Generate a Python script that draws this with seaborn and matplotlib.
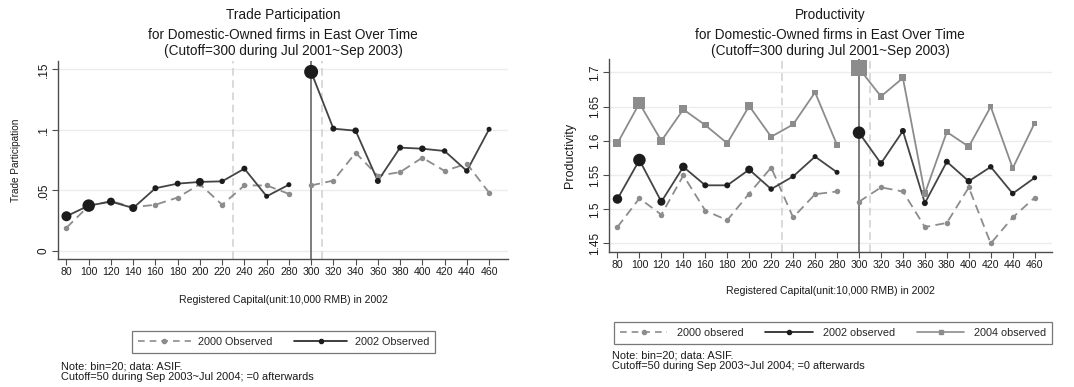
import matplotlib
matplotlib.use("Agg")
import matplotlib.pyplot as plt
from matplotlib.lines import Line2D
import seaborn as sns
import pandas as pd
import numpy as np

sns.set_style("white")
plt.rcParams['font.family'] = ['Liberation Sans', 'DejaVu Sans']

# ---------------- data ----------------
bins = [80, 100, 120, 140, 160, 180, 200, 220, 240, 260, 280,
        300, 320, 340, 360, 380, 400, 420, 440, 460]
xticks = [80, 100, 120, 140, 160, 180, 200, 220, 240, 260, 280,
          300, 320, 340, 360, 380, 400, 420, 440, 460]

# Trade participation
trade_2000 = [0.019, 0.037, 0.041, 0.036, 0.038, 0.044, 0.055, 0.038, 0.054, 0.054, 0.047,
              0.054, 0.058, 0.081, 0.062, 0.065, 0.077, 0.066, 0.072, 0.048]
trade_2002 = [0.0285, 0.0373, 0.0406, 0.0353, 0.0517, 0.0555, 0.0569, 0.0574, 0.0679, 0.045, 0.0546,
              0.148, 0.101, 0.0993, 0.0577, 0.0853, 0.0844, 0.0825, 0.066, 0.1005]
# relative bin weights (marker diameter, px)
trade_w2002 = [10, 12.5, 8, 8, 6, 6, 8, 5.5, 6, 5, 5,
               14, 6, 6.5, 6, 6, 6.5, 5.5, 5.5, 5]

# Productivity
prod_2000 = [1.474, 1.516, 1.492, 1.5495, 1.498, 1.484, 1.523, 1.561, 1.488, 1.522, 1.526,
             1.511, 1.532, 1.526, 1.474, 1.480, 1.532, 1.450, 1.488, 1.517]
prod_2002 = [1.515, 1.572, 1.511, 1.562, 1.535, 1.535, 1.558, 1.5295, 1.548, 1.577, 1.554,
             1.612, 1.567, 1.6145, 1.509, 1.5695, 1.541, 1.562, 1.523, 1.546]
prod_2004 = [1.5965, 1.655, 1.600, 1.646, 1.623, 1.5965, 1.651, 1.606, 1.624, 1.671, 1.594,
             1.706, 1.665, 1.692, 1.523, 1.613, 1.5915, 1.650, 1.560, 1.626]
prod_w2002 = [9.5, 12.5, 8, 8.5, 6, 6, 8, 5.5, 5.5, 5, 5,
              12.5, 6.5, 6, 6, 6, 6.5, 5.5, 5.5, 5]
prod_w2004 = [8, 12, 8, 8, 6.5, 6.5, 8, 6, 6, 5.5, 5.5,
              16, 6.5, 7, 6.5, 6, 7, 5.5, 5.5, 5]

cutoff = 300
band_lo, band_hi = 230, 310

C_BLACK = "#1c1c1c"
C_BLINE = "#444444"
C_GRAY = "#8c8c8c"
C_GRID = "#ececec"
C_AX = "#4d4d4d"
C_TXT = "#1a1a1a"

W, H = 1074, 387
fig = plt.figure(figsize=(W / 100, H / 100), dpi=100)


def px_axes(l, t, r, b):
    return fig.add_axes([l / W, 1 - b / H, (r - l) / W, (b - t) / H])


def draw_series(ax, x, y, color, ls, lw, marker, msize, wdiam=None):
    df = pd.DataFrame({"x": x, "y": y})
    df["seg"] = np.where(df["x"] < cutoff, "a", "b")
    for seg in ["a", "b"]:
        sub = df[df["seg"] == seg]
        sns.lineplot(data=sub, x="x", y="y", ax=ax, color=color, lw=lw,
                     linestyle=ls, estimator=None, sort=False, zorder=3)
    if wdiam is None:
        sns.scatterplot(data=df, x="x", y="y", ax=ax, color=color, marker=marker,
                        s=(msize * 0.72) ** 2, linewidth=0, zorder=4, legend=False)
    else:
        df["s"] = [(d * 0.72) ** 2 for d in wdiam]
        smin, smax = df["s"].min(), df["s"].max()
        sns.scatterplot(data=df, x="x", y="y", ax=ax, color=color, marker=marker,
                        size="s", sizes=(smin, smax), size_norm=(smin, smax),
                        linewidth=0, zorder=4, legend=False)


def style_axes(ax, yticks, ylabels, ylim, xlim, ylab, ylab_fs, ylab_pad, xlab_pad):
    ax.set_xlim(*xlim)
    ax.set_ylim(*ylim)
    ax.set_xticks(xticks)
    ax.set_xticklabels([str(v) for v in xticks], fontsize=7.6, color=C_TXT)
    ax.set_yticks(yticks)
    ax.set_yticklabels(ylabels, fontsize=8.5, rotation=90, va="center", color=C_TXT)
    for yv in yticks:
        ax.axhline(yv, color=C_GRID, lw=1.0, zorder=0)
    for s in ["top", "right"]:
        ax.spines[s].set_visible(False)
    for s in ["left", "bottom"]:
        ax.spines[s].set_color(C_AX)
        ax.spines[s].set_linewidth(1.0)
    ax.tick_params(axis="both", direction="out", length=4, width=0.8, color=C_AX,
                   pad=2, bottom=True, left=True)
    ax.set_xlabel("Registered Capital(unit:10,000 RMB) in 2002", fontsize=7.6,
                  color=C_TXT, labelpad=xlab_pad)
    ax.set_ylabel(ylab, fontsize=ylab_fs, color=C_TXT, labelpad=ylab_pad)
    ax.axvline(band_lo, color="#cfcfcf", lw=1.1, ls=(0, (5, 3)), zorder=1)
    ax.axvline(band_hi, color="#cfcfcf", lw=1.1, ls=(0, (5, 3)), zorder=1)
    ax.axvline(cutoff, color="#5a5a5a", lw=1.1, zorder=2)


def titles(xc, main):
    fig.text(xc / W, 1 - 15 / H, main, ha="center", va="center",
             fontsize=9.8, color=C_TXT)
    fig.text(xc / W, 1 - 35 / H, "for Domestic-Owned firms in East Over Time",
             ha="center", va="center", fontsize=9.8, color=C_TXT)
    fig.text(xc / W, 1 - 51 / H, "(Cutoff=300 during Jul 2001~Sep 2003)",
             ha="center", va="center", fontsize=9.8, color=C_TXT)


# ---------------- left panel ----------------
ax1 = px_axes(58, 61, 508, 259)
draw_series(ax1, bins, trade_2000, C_GRAY, (0, (5, 3)), 1.3, "o", 5.5)
draw_series(ax1, bins, trade_2002, C_BLINE, "-", 1.3, "o", 6, wdiam=trade_w2002)
ax1.collections[-1].set_color(C_BLACK)
style_axes(ax1, [0, 0.05, 0.1, 0.15], ["0", ".05", ".1", ".15"],
           (-0.0069, 0.157), (72.4, 477), "Trade Participation", 7.2, 12, 13)
titles(283, "Trade Participation")

# ---------------- right panel ----------------
ax2 = px_axes(609, 59, 1052, 252)
draw_series(ax2, bins, prod_2004, C_GRAY, "-", 1.3, "s", 6, wdiam=prod_w2004)
draw_series(ax2, bins, prod_2000, C_GRAY, (0, (5, 3)), 1.3, "o", 5.5)
draw_series(ax2, bins, prod_2002, C_BLINE, "-", 1.3, "o", 6, wdiam=prod_w2002)
ax2.collections[-1].set_color(C_BLACK)
style_axes(ax2, [1.45, 1.5, 1.55, 1.6, 1.65, 1.7],
           ["1.45", "1.5", "1.55", "1.6", "1.65", "1.7"],
           (1.4375, 1.7197), (72.3, 475.8), "Productivity", 9, 9, 11)
titles(830, "Productivity")

# ---------------- legends ----------------
h2000 = Line2D([], [], color=C_GRAY, ls=(0, (4, 3)), lw=1.2, marker="o", ms=3)
h2002 = Line2D([], [], color=C_BLACK, ls="-", lw=1.2, marker="o", ms=3)
h2004 = Line2D([], [], color=C_GRAY, ls="-", lw=1.2, marker="s", ms=3)

leg1 = fig.legend([h2000, h2002], ["2000 Observed", "2002 Observed"],
                  loc="center", bbox_to_anchor=(283.5 / W, 1 - 342 / H), ncol=2,
                  fontsize=7.8, frameon=True, fancybox=False, handlelength=4.9,
                  columnspacing=2.0, handletextpad=0.7, borderpad=0.55,
                  edgecolor="#555555", borderaxespad=0)
leg1.get_frame().set_linewidth(0.9)
leg2 = fig.legend([h2000, h2002, h2004], ["2000 obsered", "2002 observed", "2004 observed"],
                  loc="center", bbox_to_anchor=(833 / W, 1 - 333 / H), ncol=3,
                  fontsize=7.8, frameon=True, fancybox=False, handlelength=4.4,
                  columnspacing=2.0, handletextpad=0.9, borderpad=0.55,
                  edgecolor="#555555", borderaxespad=0)
leg2.get_frame().set_linewidth(0.9)

# ---------------- notes ----------------
note = "Note: bin=20; data: ASIF.\nCutoff=50 during Sep 2003~Jul 2004; =0 afterwards"
fig.text(61 / W, 1 - 372 / H, note, ha="left", va="center", fontsize=7.9,
         color=C_TXT, linespacing=1.1)
fig.text(612 / W, 1 - 361 / H, note, ha="left", va="center", fontsize=7.9,
         color=C_TXT, linespacing=1.1)

fig.savefig("out.png", dpi=100)
